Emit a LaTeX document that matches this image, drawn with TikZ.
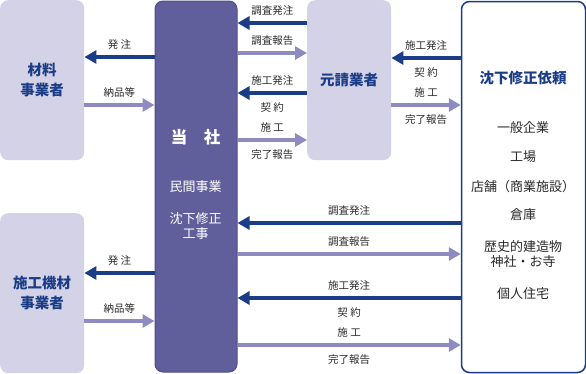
\documentclass[tikz,border=0pt]{standalone}
\usepackage{fontspec}
\setmainfont{Noto Sans CJK JP}
\usetikzlibrary{positioning, arrows.meta}
\definecolor{paleBox}{HTML}{D3D2E6}
\definecolor{ownBox}{HTML}{605F9C}
\definecolor{ownEdge}{HTML}{4E4D8A}
\definecolor{deepBlue}{HTML}{1B3C87}
\definecolor{paleArrow}{HTML}{8D8BBF}
\definecolor{labelGray}{HTML}{2A2A2A}

\begin{document}
\begin{tikzpicture}[
    x = 1pt, y = -1pt,
    box/.style = {rectangle, rounded corners=8pt, anchor=north west, inner sep=0pt, align=center},
    pale/.style = {box, fill=paleBox, text=deepBlue, font=\bfseries\fontsize{14.5}{20}\selectfont, minimum width=84pt},
    own/.style = {box, fill=ownBox, draw=ownEdge, line width=1pt},
    client/.style = {box, draw=deepBlue, line width=1.5pt, fill=white},
    owntext/.style = {text=white, font=\fontsize{13}{15}\selectfont},
    item/.style = {text=labelGray, font=\fontsize{13}{15}\selectfont},
    lbl/.style = {text=labelGray, font=\fontsize{10.5}{12}\selectfont, inner sep=1pt},
    darrow/.style = {draw=deepBlue, line width=4pt, -{Triangle[length=12pt, width=13pt]}},
    parrow/.style = {darrow, draw=paleArrow}
]
    \useasboundingbox (0,0) rectangle (586,373);

    % boxes
    \node[pale, minimum height=160pt] (zairyo) at (0,0) {材料\\事業者};
    \node[pale, minimum height=160pt] (kizai) at (0,213) {施工機材\\事業者};
    \node[own, minimum width=82pt, minimum height=371pt] (tosha) at (154.5,0.5) {};
    \node[pale, minimum height=160pt] (moto) at (307,0) {元請業者};
    \node[client, minimum width=124pt, minimum height=371pt] (irai) at (460.75,0.75) {};

    % text in the own company box
    \node[text=white, font=\bfseries\fontsize{16.5}{18}\selectfont] (tosha-t) at (195.5,137) {当\quad 社};
    \node[owntext] (minkan) at (195.5,187) {民間事業};
    \node[owntext, align=center] (shuusei) at (195.5,226) {沈下修正\\工事};

    % text in the client box
    \node[text=deepBlue, font=\bfseries\fontsize{14.5}{16}\selectfont] (irai-t) at (523,78) {沈下修正依頼};
    \node[item] (ippan) at (523,128) {一般企業};
    \node[item] (koujou) at (523,157) {工場};
    \node[item] (tenpo) at (523,187) {店舗（商業施設）};
    \node[item] (souko) at (523,215) {倉庫};
    \node[item, align=center] (rekishi) at (523,254) {歴史的建造物\\神社・お寺};
    \node[item] (kojin) at (523,294) {個人住宅};

    % suppliers
    \draw[darrow] (tosha.west |- 0,57) -- node[lbl, above=5pt] {発 注} (zairyo.east |- 0,57);
    \draw[parrow] (zairyo.east |- 0,105) -- node[lbl, above=5pt] {納品等} (tosha.west |- 0,105);
    \draw[darrow] (tosha.west |- 0,273) -- node[lbl, above=5pt] {発 注} (kizai.east |- 0,273);
    \draw[parrow] (kizai.east |- 0,321) -- node[lbl, above=5pt] {納品等} (tosha.west |- 0,321);

    % main contractor
    \draw[darrow] (moto.west |- 0,23) -- node[lbl, above=5pt] {調査発注} (tosha.east |- 0,23);
    \draw[parrow] (tosha.east |- 0,53) -- node[lbl, above=5pt] {調査報告} (moto.west |- 0,53);
    \draw[darrow] (moto.west |- 0,93) -- node[lbl, above=5pt] {施工発注} node[lbl, below=7pt] {契 約} (tosha.east |- 0,93);
    \draw[parrow] (tosha.east |- 0,140) -- node[lbl, above=5pt] {施 工} node[lbl, below=7pt] {完了報告} (moto.west |- 0,140);
    \draw[darrow] (irai.west |- 0,58) -- node[lbl, above=5pt] {施工発注} node[lbl, below=7pt] {契 約} (moto.east |- 0,58);
    \draw[parrow] (moto.east |- 0,105) -- node[lbl, above=5pt] {施 工} node[lbl, below=7pt] {完了報告} (irai.west |- 0,105);

    % direct orders
    \draw[darrow] (irai.west |- 0,223) -- node[lbl, above=5pt] {調査発注} (tosha.east |- 0,223);
    \draw[parrow] (tosha.east |- 0,254) -- node[lbl, above=5pt] {調査報告} (irai.west |- 0,254);
    \draw[darrow] (irai.west |- 0,298) -- node[lbl, above=5pt] {施工発注} node[lbl, below=7pt] {契 約} (tosha.east |- 0,298);
    \draw[parrow] (tosha.east |- 0,345) -- node[lbl, above=5pt] {施 工} node[lbl, below=7pt] {完了報告} (irai.west |- 0,345);
\end{tikzpicture}
\end{document}
